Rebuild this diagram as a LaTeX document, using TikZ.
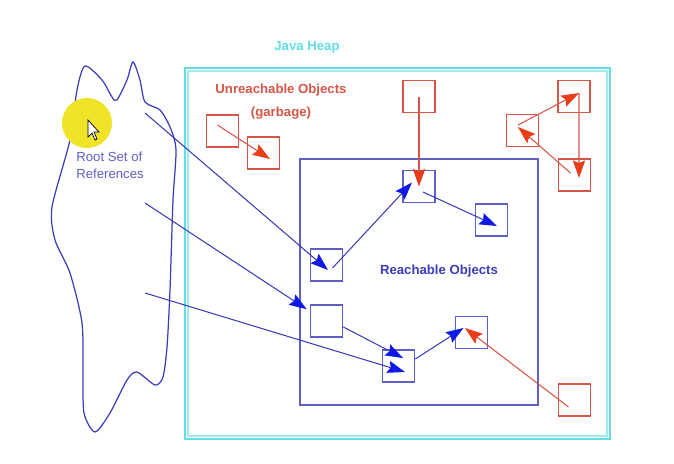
\documentclass[tikz,border=0pt]{standalone}
\usepackage{fontspec}
\setmainfont{Liberation Sans}
\usepackage{xcolor}
\usetikzlibrary{arrows.meta,calc}
\definecolor{lcyan}{RGB}{95, 222, 232}
\definecolor{lblue}{RGB}{95, 95, 200}
\definecolor{dblue}{RGB}{60, 60, 185}
\definecolor{tblue}{RGB}{15, 25, 230}
\definecolor{lred}{RGB}{215, 85, 70}
\definecolor{tred}{RGB}{235, 60, 25}
\definecolor{lyellow}{RGB}{240, 228, 40}
\tikzset{
  obj/.style={draw=#1, line width=0.9pt, minimum size=0.64cm, inner sep=0pt},
  bluearr/.style={draw=dblue, line width=0.6pt, -{Stealth[length=10pt,width=7pt,inset=1.5pt,color=tblue]}},
  redarr/.style={draw=lred, line width=0.6pt, -{Stealth[length=10pt,width=7pt,inset=1.5pt,color=tred]}},
  lbl/.style={font=\fontsize{7.5}{9.6}\selectfont\bfseries, inner sep=0pt}
}

\begin{document}
\begin{tikzpicture}[x=0.02cm, y=-0.02cm]
  \useasboundingbox (0,0) rectangle (674,464);
  % root set
  \draw[dblue, line width=0.7pt] plot[smooth cycle, tension=0.45] coordinates {
    (85,66) (102,80) (112,97) (117,100) (127,80) (133,62) (140,80) (145,102)
    (160,110) (170,127) (176,150) (173,200) (170,290) (167,347) (163,377)
    (155,385) (137,372) (127,380) (110,413) (95,432) (84,413) (83,373)
    (82,323) (70,273) (55,240) (52,207) (70,140) (77,90)};
  \fill[lyellow] (87,123) circle (25);
  \draw[fill=white, line width=0.4pt] (88,120) -- (88,137) -- (92,133) -- (95,140)
    -- (97,139) -- (94,132) -- (99,132) -- cycle;
  \node[font=\fontsize{7.5}{9.6}\selectfont, text=lblue, align=left, inner sep=0pt,
    anchor=north west] (root) at (76,152) {Root Set of\\References};
  \coordinate (s1) at (145,113);
  \coordinate (s2) at (145,203);
  \coordinate (s3) at (145,293);
  % heap
  \draw[lcyan, line width=1.2pt] (185,68) rectangle (610,439);
  \draw[lcyan!60, line width=0.6pt] (188,71) rectangle (607,436);
  \node[lbl, text=lcyan] (heap) at (307,47) {Java Heap};
  \draw[lblue, line width=0.9pt] (300,159) rectangle (538,405);
  \node[lbl, text=dblue] (reach) at (439,271) {Reachable Objects};
  \node[lbl, text=lred, align=center, font=\fontsize{7.5}{13}\selectfont\bfseries] (unreach)
    at (281,102) {Unreachable Objects\\(garbage)};
  % objects
  \node[obj=lred] (g1) at (222.5,131) {};
  \node[obj=lred] (g2) at (263.5,153) {};
  \node[obj=lred] (t) at (419,96.5) {};
  \node[obj=lred] (r1) at (574,96.5) {};
  \node[obj=lred] (r2) at (522.5,130.5) {};
  \node[obj=lred] (r3) at (574.5,175) {};
  \node[obj=lred] (h) at (574.5,400) {};
  \node[obj=lblue] (a) at (419,186.5) {};
  \node[obj=lblue] (b) at (491.5,220) {};
  \node[obj=lblue] (c) at (326.5,265) {};
  \node[obj=lblue] (d) at (326.5,321) {};
  \node[obj=lblue] (e) at (398.5,366) {};
  \node[obj=lblue] (f) at (471.5,332.5) {};
  % references
  \draw[bluearr] (s1) -- ($(c.center)+(1.5,5)$);
  \draw[bluearr] (s2) -- ($(d.north west)+(-3,5)$);
  \draw[bluearr] (s3) -- ($(e.center)+(6.5,6)$);
  \draw[bluearr] ($(c.center)+(6,3)$) -- ($(a.center)+(-7,-4)$);
  \draw[bluearr] ($(a.center)+(4,5.5)$) -- ($(b.center)+(5.5,6)$);
  \draw[bluearr] ($(d.east)+(0,6)$) -- ($(e.center)+(4.5,-8)$);
  \draw[bluearr] ($(e.east)+(0,-7)$) -- ($(f.center)+(-8,-4.5)$);
  \draw[redarr] ($(g1.center)+(-5,-6)$) -- ($(g2.center)+(6.5,6)$);
  \draw[redarr] (t.center) -- (a.center);
  \draw[redarr] ($(h.center)+(-6,7)$) -- ($(f.center)+(-6.5,-4.5)$);
  \draw[redarr] ($(r2.center)+(-4.5,-5.5)$) -- ($(r1.center)+(5,-3.5)$);
  \draw[redarr] ($(r1.center)+(5,-3.5)$) -- ($(r3.center)+(4.5,3)$);
  \draw[redarr] ($(r3.center)+(-4,-2)$) -- ($(r2.center)+(-4.5,-3.5)$);
\end{tikzpicture}
\end{document}
